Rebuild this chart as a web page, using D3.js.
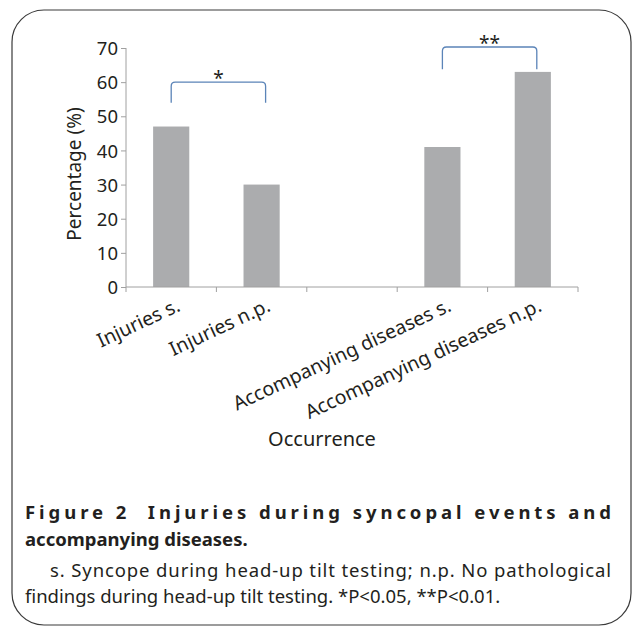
<!DOCTYPE html>
<html>
<head>
<meta charset="utf-8">
<script src="https://cdn.jsdelivr.net/npm/d3@7"></script>
<style>
  body { margin: 0; background: #fff; }
  text { font-family: "Noto Sans", "Open Sans", sans-serif; }
</style>
</head>
<body>
<script>
var categories = ["Injuries s.", "Injuries n.p.", "", "Accompanying diseases s.", "Accompanying diseases n.p."];
var values = [47, 30, null, 41, 63];
var yTicks = [0, 10, 20, 30, 40, 50, 60, 70];
var brackets = [
  {from: 0, to: 1, top: 60, leg: 54, label: "*"},
  {from: 3, to: 4, top: 70.3, leg: 63.8, label: "**"}
];
var captionTitle = "Figure 2  Injuries during syncopal events and";
var captionTitle2 = "accompanying diseases.";
var captionBody = ["s. Syncope during head-up tilt testing; n.p. No pathological",
                   "findings during head-up tilt testing. *P<0.05, **P<0.01."];

var width = 633, height = 629;
var margin = {left: 126, top: 48};
var plotW = 452, plotH = 239;

var svg = d3.select("body").append("svg")
  .attr("width", width).attr("height", height);

// rounded frame
svg.append("rect")
  .attr("x", 12).attr("y", 10)
  .attr("width", 619).attr("height", 615)
  .attr("rx", 32).attr("ry", 32)
  .attr("fill", "none").attr("stroke", "#3a3a3a").attr("stroke-width", 1.2);

var chartGroup = svg.append("g")
  .attr("transform", "translate(" + margin.left + "," + margin.top + ")");

var x = d3.scaleBand()
  .domain(d3.range(categories.length))
  .range([0, plotW])
  .paddingInner(0.6).paddingOuter(0.3);

var slot = d3.scaleBand()
  .domain(d3.range(categories.length))
  .range([0, plotW]);

var y = d3.scaleLinear().domain([0, 70]).range([plotH, 0]);

// bars
chartGroup.selectAll("rect.bar")
  .data(values.map(function(v, i){ return {v: v, i: i}; }).filter(function(d){ return d.v != null; }))
  .enter().append("rect")
  .attr("class", "bar")
  .attr("x", function(d){ return x(d.i); })
  .attr("width", x.bandwidth())
  .attr("y", function(d){ return y(d.v); })
  .attr("height", function(d){ return plotH - y(d.v); })
  .attr("fill", "#abacae");

// y axis
var yAxis = d3.axisLeft(y).tickValues(yTicks).tickSize(5).tickPadding(3);
var yg = chartGroup.append("g").call(yAxis);
yg.select(".domain").attr("stroke", "#a0a0a0").attr("d", "M0,0V" + plotH);
yg.selectAll(".tick line").attr("stroke", "#a0a0a0");
yg.selectAll(".tick text").attr("fill", "#231f20").style("font-size", "18.5px")
  .attr("dy", "0.36em");

// x axis line and ticks
var xg = chartGroup.append("g").attr("transform", "translate(0," + plotH + ")");
xg.append("line").attr("x1", 0).attr("x2", plotW).attr("stroke", "#a0a0a0");
xg.selectAll("line.tk")
  .data(d3.range(categories.length + 1))
  .enter().append("line")
  .attr("class", "tk")
  .attr("x1", function(i){ return i * slot.step(); })
  .attr("x2", function(i){ return i * slot.step(); })
  .attr("y1", 0).attr("y2", 5)
  .attr("stroke", "#a0a0a0");

// category labels
xg.selectAll("text.cat")
  .data(categories)
  .enter().append("text")
  .attr("class", "cat")
  .attr("text-anchor", "end")
  .attr("transform", function(d, i){
    return "translate(" + (slot(i) + slot.bandwidth() / 2 + 4) + ",10) rotate(-25)";
  })
  .attr("dy", "0.75em")
  .attr("fill", "#231f20")
  .style("font-size", "19.5px")
  .text(function(d){ return d; });

// significance brackets
var r = 4;
brackets.forEach(function(b){
  var x1 = x(b.from) + x.bandwidth() / 2;
  var x2 = x(b.to) + x.bandwidth() / 2 + 4;
  var yt = y(b.top), yl = y(b.leg);
  chartGroup.append("path")
    .attr("d", "M" + x1 + "," + yl + "V" + (yt + r) + "Q" + x1 + "," + yt + " " + (x1 + r) + "," + yt +
               "H" + (x2 - r) + "Q" + x2 + "," + yt + " " + x2 + "," + (yt + r) + "V" + yl)
    .attr("fill", "none").attr("stroke", "#5b84b8").attr("stroke-width", 1.3);
  chartGroup.append("text")
    .attr("x", (x1 + x2) / 2).attr("y", yt + 3)
    .attr("text-anchor", "middle")
    .attr("fill", "#231f20")
    .style("font-size", "19px")
    .text(b.label);
});

// axis titles
svg.append("text")
  .attr("text-anchor", "middle")
  .attr("transform", "translate(81,174) rotate(-90)")
  .attr("fill", "#231f20")
  .style("font-size", "19px")
  .text("Percentage (%)");

svg.append("text")
  .attr("text-anchor", "middle")
  .attr("x", 322).attr("y", 446)
  .attr("fill", "#231f20")
  .style("font-size", "20px")
  .text("Occurrence");

// caption
svg.append("text")
  .attr("x", 25).attr("y", 519)
  .attr("textLength", 586).attr("lengthAdjust", "spacing")
  .attr("fill", "#231f20")
  .style("font-size", "18.5px").style("font-weight", "bold")
  .style("white-space", "pre")
  .text(captionTitle);

svg.append("text")
  .attr("x", 25).attr("y", 546)
  .attr("fill", "#231f20")
  .style("font-size", "18.5px").style("font-weight", "bold")
  .text(captionTitle2);

svg.append("text")
  .attr("x", 50).attr("y", 577)
  .attr("textLength", 561).attr("lengthAdjust", "spacing")
  .attr("fill", "#231f20")
  .style("font-size", "18.5px")
  .text(captionBody[0]);

svg.append("text")
  .attr("x", 25).attr("y", 603)
  .attr("fill", "#231f20")
  .style("font-size", "18.5px")
  .text(captionBody[1]);
</script>
</body>
</html>
